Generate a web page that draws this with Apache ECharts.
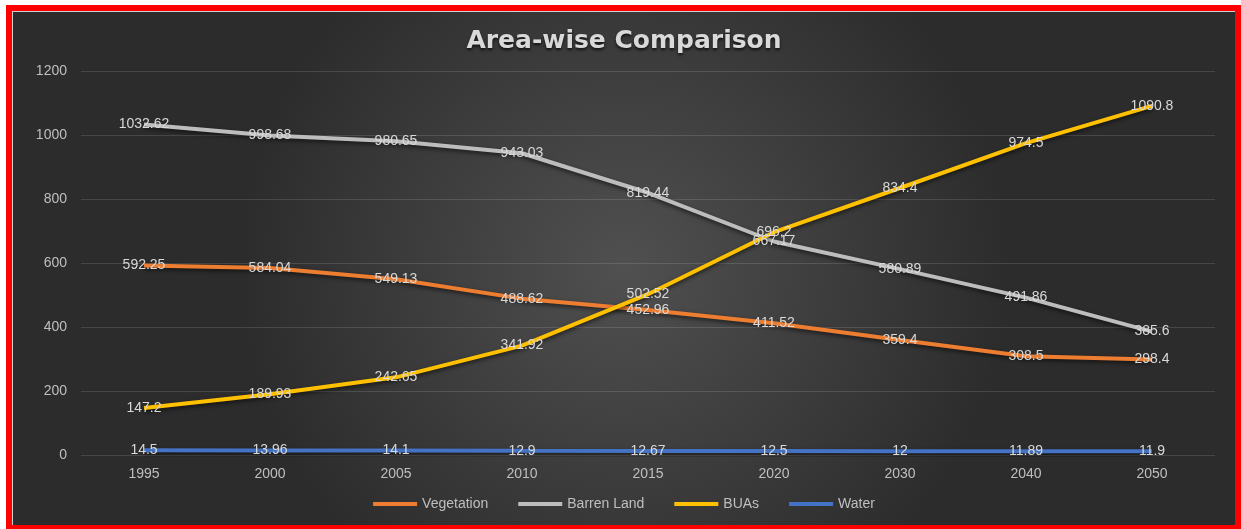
<!DOCTYPE html>
<html><head><meta charset="utf-8">
<script src="https://cdn.jsdelivr.net/npm/echarts@6/dist/echarts.min.js"></script>
<style>
html,body{margin:0;padding:0;background:#fff;width:1241px;height:529px;overflow:hidden;}
#frame{position:absolute;left:6px;top:5px;width:1235px;height:524px;box-sizing:border-box;border-style:solid;border-color:#ff0000;border-width:6px 6px 4px 6px;}
#chart{position:absolute;left:0;top:0;width:1223px;height:514px;border-left:1px solid #d0d0d0;border-top:1px solid #d0d0d0;box-sizing:border-box;}
</style></head>
<body>
<div id="frame"><div id="chart"></div></div>
<script>
const categories = ['1995','2000','2005','2010','2015','2020','2030','2040','2050'];
const vegetation = [592.25, 584.04, 549.13, 488.62, 452.96, 411.52, 359.4, 308.5, 298.4];
const barrenLand = [1032.62, 998.68, 980.65, 943.03, 819.44, 667.17, 580.89, 491.86, 385.6];
const buas = [147.2, 189.93, 242.65, 341.92, 502.52, 696.2, 834.4, 974.5, 1090.8];
const water = [14.5, 13.96, 14.1, 12.9, 12.67, 12.5, 12, 11.89, 11.9];

const chart = echarts.init(document.getElementById('chart'));
function mk(name, data, color){
  return {name, type:'line', data, symbol:'circle', symbolSize:0.01, showSymbol:true, showAllSymbol:true, smooth:false,
    lineStyle:{color, width:4, shadowColor:'rgba(0,0,0,0.6)', shadowBlur:4, shadowOffsetY:2},
    itemStyle:{color},
    label:{show:true, position:'inside', offset:[0,2], color:'#d9d9d9', fontSize:14,
      fontFamily:'Liberation Sans', formatter: p => String(p.value)},
    labelLayout:{hideOverlap:false}};
}
chart.setOption({
  backgroundColor:{type:'radial', x:0.5, y:0.5, r:0.75, colorStops:[{offset:0,color:'#505050'},{offset:1,color:'#2c2c2c'}]},
  animation:false,
  title:{text:'Area-wise Comparison', left:'center', top:12,
    textStyle:{color:'#d9d9d9', fontSize:25, fontWeight:'bold', fontFamily:'DejaVu Sans',
      textShadowColor:'rgba(0,0,0,0.7)', textShadowBlur:3, textShadowOffsetY:2}},
  grid:{left:68, right:20, top:59, bottom:70, containLabel:false},
  legend:{bottom:9, left:'center', itemWidth:44, itemHeight:4, itemGap:30, icon:'rect',
    textStyle:{color:'#bfbfbf', fontSize:14, fontFamily:'Liberation Sans'},
    data:['Vegetation','Barren Land','BUAs','Water']},
  xAxis:{type:'category', data:categories, boundaryGap:true,
    axisLine:{show:false}, axisTick:{show:false},
    axisLabel:{color:'#bfbfbf', fontSize:14, fontFamily:'Liberation Sans', margin:12}},
  yAxis:{type:'value', min:0, max:1200, interval:200,
    axisLine:{show:false}, axisTick:{show:false},
    axisLabel:{color:'#bfbfbf', fontSize:14, fontFamily:'Liberation Sans', margin:14, formatter: v => String(v)},
    splitLine:{lineStyle:{color:'rgba(255,255,255,0.13)', width:1}}},
  series:[
    mk('Vegetation', vegetation, '#ED7D31'),
    mk('Barren Land', barrenLand, '#BDBDBD'),
    mk('BUAs', buas, '#FFC000'),
    mk('Water', water, '#4472C4')
  ]
});
</script>
</body></html>
